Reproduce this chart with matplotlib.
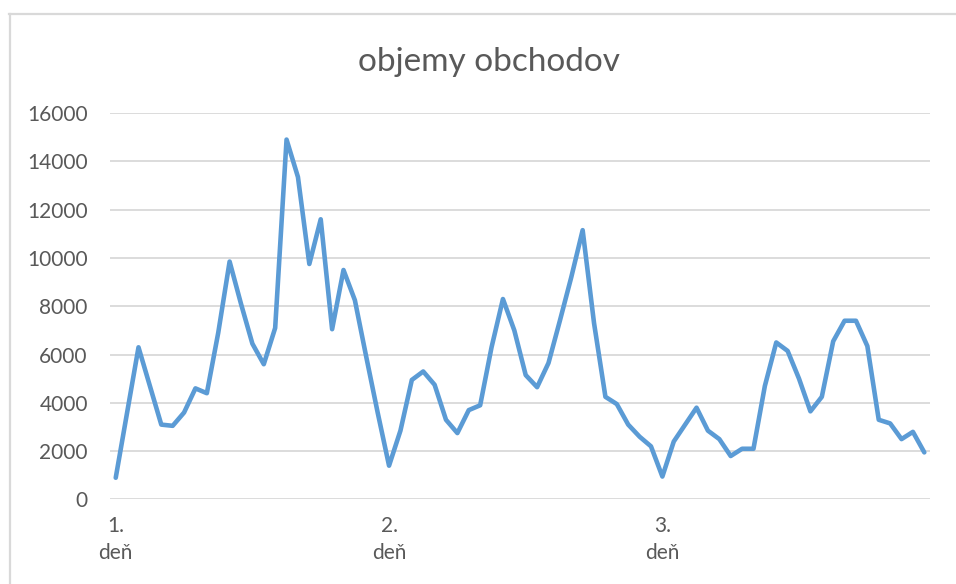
import numpy as np
import matplotlib.pyplot as plt
from matplotlib.lines import Line2D

# objemy obchodov po hodinách, 3 dni x 24 hodín
objemy = [
    900, 3600, 6300, 4700, 3100, 3050, 3600, 4600, 4400, 6900, 9850, 8100,
    6450, 5600, 7100, 14900, 13350, 9750, 11600, 7050, 9500, 8250, 5900, 3600,
    1400, 2850, 4950, 5300, 4750, 3300, 2750, 3700, 3900, 6300, 8300, 7000,
    5150, 4650, 5650, 7400, 9200, 11150, 7300, 4250, 3950, 3100, 2600, 2200,
    950, 2400, 3100, 3800, 2850, 2500, 1800, 2100, 2100, 4700, 6500, 6150,
    5000, 3650, 4250, 6550, 7400, 7400, 6350, 3300, 3150, 2500, 2800, 1950,
]
dni = ["1.\ndeň", "2.\ndeň", "3.\ndeň"]
hodin_za_den = 24

plt.rcParams['font.family'] = ['Lato', 'DejaVu Sans']
sivá = '#595959'

fig = plt.figure(figsize=(9.56, 5.84), dpi=100)
ax = fig.add_axes([0.1151, 0.1447, 0.8577, 0.6618])

x = np.arange(len(objemy))
ax.plot(x, objemy, color='#5B9BD5', linewidth=3.3, solid_joinstyle='round',
        solid_capstyle='round', clip_on=False, zorder=3)

ax.set_xlim(-0.5, len(objemy) - 0.5)
ax.set_ylim(0, 16000)
ax.set_yticks(np.arange(0, 16001, 2000))
ax.set_xticks(np.arange(len(dni)) * hodin_za_den)
ax.set_xticklabels(dni, linespacing=1.45)

ax.grid(axis='y', color='#D9D9D9', linewidth=1.3)
ax.set_axisbelow(True)
for s in ax.spines.values():
    s.set_visible(False)
ax.tick_params(axis='y', length=0, pad=16, labelsize=15, labelcolor=sivá)
ax.tick_params(axis='x', length=0, pad=12, labelsize=15, labelcolor=sivá)

fig.text(0.512, 0.893, 'objemy obchodov', ha='center', va='center',
         fontsize=24, color=sivá)

# okraj oblasti grafu
fig.add_artist(Line2D([9.5 / 956, 9.5 / 956], [1 - 14 / 584, 0],
                      transform=fig.transFigure, color='#D9D9D9', linewidth=1.6))
fig.add_artist(Line2D([9 / 956, 1], [1 - 14 / 584, 1 - 14 / 584],
                      transform=fig.transFigure, color='#D9D9D9', linewidth=1.6))

fig.savefig('out.png', dpi=100)
